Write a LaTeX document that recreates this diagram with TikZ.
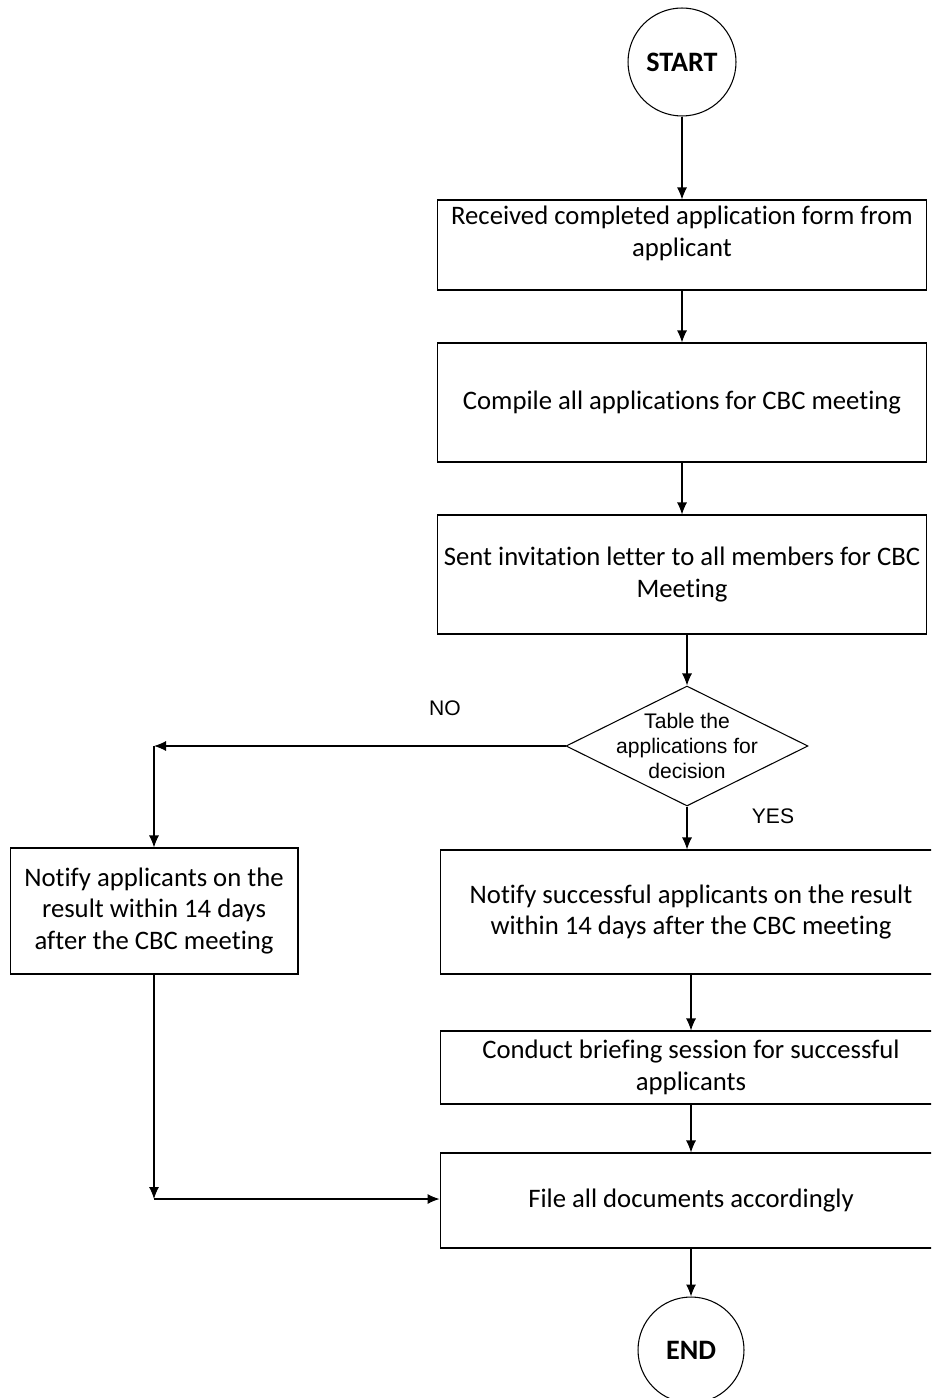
\documentclass[tikz,border=0pt]{standalone}
\usepackage{fontspec}
\setmainfont{Carlito}[Ligatures=NoCommon]
\newfontfamily\arialfont{Liberation Sans}
\usetikzlibrary{arrows.meta,shapes.geometric}

\begin{document}
\begin{tikzpicture}[x=0.02cm, y=-0.02cm, >={Latex[length=0.24cm,width=0.2cm]}, line width=0.6pt,
    process/.style={draw, align=center, inner sep=0pt,
        font=\fontsize{15.2}{18}\selectfont},
    terminal/.style={draw, circle, inner sep=0pt,
        font=\fontsize{16}{18}\selectfont\bfseries},
    decision/.style={draw, diamond, inner sep=0pt,
        minimum width=4.84cm, minimum height=2.4cm},
    answer/.style={font=\arialfont\fontsize{12}{14.2}\selectfont}]
    \useasboundingbox (0,0) rectangle (931,1398);
    \clip (0,0) rectangle (931,1398);
    % Start
    \node [terminal, minimum size=2.16cm] (Start) at (682,62) {START};
    % Main steps
    \node [process,
        minimum width=9.8cm,
        minimum height=1.8cm,
        text depth=0.55cm
    ]  (Received) at (682,245) {Received completed application form from\\applicant};
    \node [process,
        minimum width=9.8cm,
        minimum height=2.38cm
    ]  (Compile) at (682,402.5) {Compile all applications for CBC meeting};
    \node [process,
        minimum width=9.8cm,
        minimum height=2.38cm
    ]  (Invitation) at (682,574.5) {Sent invitation letter to all members for CBC\\Meeting};
    % Decision
    \node [decision] (Table) at (687,746) {};
    \node [answer, align=center] at (Table) {Table the\\applications for\\decision};
    \node [answer] at (445,708) {NO};
    \node [answer] at (773,816) {YES};
    \coordinate (NoJoin) at (154,746);
    % Branches
    \node [process,
        minimum width=5.76cm,
        minimum height=2.52cm
    ]  (NotifyAll) at (154,911) {Notify applicants on the\\result within 14 days\\after the CBC meeting};
    \node [process,
        minimum width=10.04cm,
        minimum height=2.48cm
    ]  (NotifySuccess) at (691,912) {Notify successful applicants on the result\\within 14 days after the CBC meeting};
    \node [process,
        minimum width=10.04cm,
        minimum height=1.46cm
    ]  (Briefing) at (691,1067.5) {Conduct briefing session for successful\\applicants};
    \node [process,
        minimum width=10.04cm,
        minimum height=1.9cm
    ]  (File) at (691,1200.5) {File all documents accordingly};
    \coordinate (FileJoin) at (154,1199);
    % End
    \node [terminal, minimum size=2.12cm] (End) at (691,1350) {END};

    \draw [->] (Start) -- (Received);
    \draw [->] (Received) -- (Compile);
    \draw [->] (Compile) -- (Invitation);
    \draw [->] (Table.north |- Invitation.south) -- (Table.north);
    \draw [->] (Table.west) -- (NoJoin);
    \draw [->] (NoJoin) -- (NotifyAll);
    \draw [->] (Table.south) -- (Table.south |- NotifySuccess.north);
    \draw [->] (NotifySuccess) -- (Briefing);
    \draw [->] (Briefing) -- (File);
    \draw [->] (NotifyAll) -- (FileJoin);
    \draw [->] (FileJoin) -- (File.west |- FileJoin);
    \draw [->] (File) -- (End);
\end{tikzpicture}
\end{document}
